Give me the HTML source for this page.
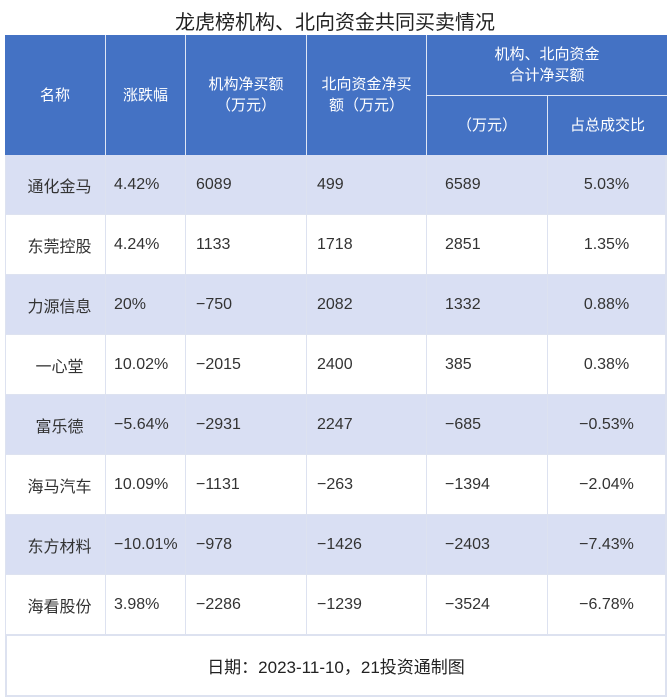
<!DOCTYPE html>
<html><head><meta charset="utf-8"><style>
body{margin:0;width:670px;height:700px;background:#fff;font-family:"Liberation Sans","Noto Sans CJK SC",sans-serif;position:relative;overflow:hidden}
.a{position:absolute;box-sizing:border-box}
.title{left:0;width:670px;top:6px;text-align:center;font-size:20px;color:#222}
.hd{background:#4472c4;color:#fff;font-size:15px;display:flex;align-items:center;justify-content:center;text-align:center;line-height:21px;border-right:1px solid #dfe6f5}
.c{font-size:16px;color:#333;display:flex;align-items:center;border-right:1px solid #dde2f0;padding-left:10px}
.odd{background:#d9dff3}
</style></head><body>
<div class="a title">龙虎榜机构、北向资金共同买卖情况</div>
<div id="t"></div>
<div class="a" style="left:5px;top:635px;width:662px;height:62px;border:2px solid #dde2f0;border-top:1px solid #dde2f0;display:flex;align-items:center;justify-content:center;font-size:17px;color:#222">日期：2023-11-10，21投资通制图</div>
<script>
const names=["通化金马","东莞控股","力源信息","一心堂","富乐德","海马汽车","东方材料","海看股份"];
const changes=["4.42%","4.24%","20%","10.02%","−5.64%","10.09%","−10.01%","3.98%"];
const inst=["6089","1133","−750","−2015","−2931","−1131","−978","−2286"];
const north=["499","1718","2082","2400","2247","−263","−1426","−1239"];
const total=["6589","2851","1332","385","−685","−1394","−2403","−3524"];
const share=["5.03%","1.35%","0.88%","0.38%","−0.53%","−2.04%","−7.43%","−6.78%"];
const xs=[5,106,186,307,427,548,667];
const t=document.getElementById('t');
function box(cls,x,y,w,h,html,name){const d=document.createElement('div');d.className='a '+cls;d.style.cssText=`left:${x}px;top:${y}px;width:${w}px;height:${h}px`;d.innerHTML=html;


t.appendChild(d);return d;}
box('hd',5,35,101,120,'名称','header-name');
box('hd',106,35,80,120,'涨跌幅','header-change');
box('hd',186,35,121,120,'机构净买额<br>（万元）','header-inst');
box('hd',307,35,120,120,'北向资金净买<br>额（万元）','header-north');
const g=box('hd',427,35,240,61,'机构、北向资金<br>合计净买额','header-group');g.style.borderBottom='1px solid #dfe6f5';g.style.borderRight='none';
box('hd',427,96,121,59,'（万元）','header-total');
const s=box('hd',548,96,119,59,'占总成交比','header-share');s.style.borderRight='none';
const cols=[names,changes,inst,north,total,share];
for(let r=0;r<names.length;r++){const y=155+r*60;
 for(let c=0;c<6;c++){const d=box('c'+(r%2==0?' odd':''),xs[c],y,xs[c+1]-xs[c],60,cols[c][r],'cell-r'+r+'-c'+c);
  d.style.borderBottom='1px solid #dde2f0';
  if(c==0){d.style.justifyContent='center';d.style.paddingLeft='8px';d.style.borderLeft='1px solid #dde2f0';}
  if(c==1)d.style.paddingLeft='8px';
  if(c==4)d.style.paddingLeft='18px';
  if(c==5){d.style.justifyContent='center';d.style.paddingLeft='0';d.style.borderRight='2px solid #dde2f0';}
 }}
</script>
</body></html>
